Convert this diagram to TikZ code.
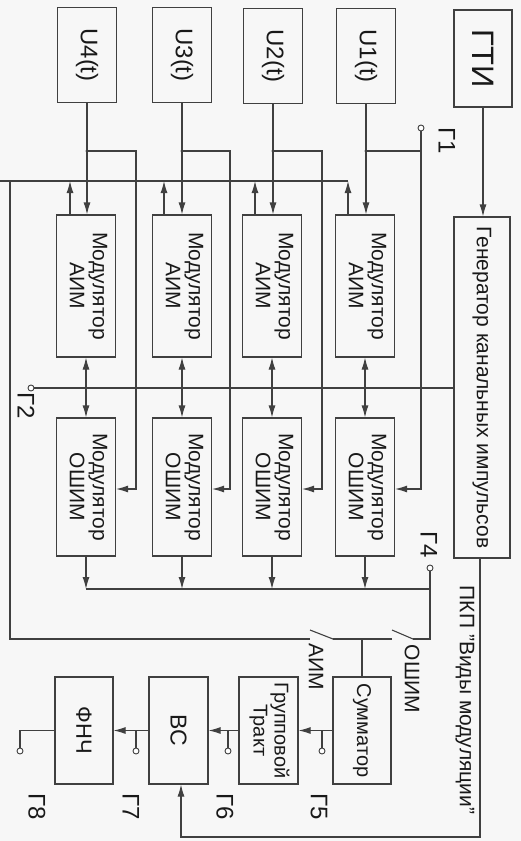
\documentclass[tikz,border=0pt]{standalone}
\usepackage{fontspec}
\setmainfont{Liberation Sans}
\usetikzlibrary{arrows.meta}
\begin{document}
\begin{tikzpicture}[x=1pt,y=-1pt,
  ln/.style={line width=1.1pt, draw=black!75},
  arr/.style={ln, -{Latex[length=12pt,width=7pt]}},
  blk/.style={draw=black!75, line width=1.1pt, inner sep=0pt, text=black!90},
  term/.style={circle, draw=black!75, line width=0.9pt, fill=white, inner sep=0pt, minimum size=6pt},
  jdot/.style={circle, fill=black!75, inner sep=0pt, minimum size=3.2pt},
  lbl/.style={text=black!90, inner sep=0pt, rotate=-90, font=\fontsize{24}{26}\selectfont},
  sw/.style={text=black!90, inner sep=0pt, rotate=-90, font=\fontsize{21}{23}\selectfont},
  mtext/.style={font=\fontsize{21}{23}\selectfont}
]
\useasboundingbox[fill=black!3] (0,0) rectangle (521,841);

% top row
\node[blk, minimum width=58pt, minimum height=97pt, font=\fontsize{31}{33}\selectfont] (GTI) at (483,58.5) {\rotatebox{-90}{ГТИ}};
\node[blk, minimum width=59pt, minimum height=95pt, font=\fontsize{24}{26}\selectfont] (U1) at (366,56) {\rotatebox{-90}{U1(t)}};
\node[blk, minimum width=59pt, minimum height=95pt, font=\fontsize{24}{26}\selectfont] (U2) at (273,56) {\rotatebox{-90}{U2(t)}};
\node[blk, minimum width=59pt, minimum height=95pt, font=\fontsize{24}{26}\selectfont] (U3) at (182,55) {\rotatebox{-90}{U3(t)}};
\node[blk, minimum width=59pt, minimum height=95pt, font=\fontsize{24}{26}\selectfont] (U4) at (87,55) {\rotatebox{-90}{U4(t)}};

% generator
\node[blk, minimum width=56pt, minimum height=341pt, mtext] (Gen) at (482,387.5) {\rotatebox{-90}{Генератор канальных импульсов}};

% AIM modulators
\node[blk, minimum width=59pt, minimum height=142pt, mtext] (A1) at (365,286) {\rotatebox{-90}{\begin{tabular}{@{}c@{}}Модулятор\\АИМ\end{tabular}}};
\node[blk, minimum width=59pt, minimum height=142pt, mtext] (A2) at (272,286) {\rotatebox{-90}{\begin{tabular}{@{}c@{}}Модулятор\\АИМ\end{tabular}}};
\node[blk, minimum width=59pt, minimum height=142pt, mtext] (A3) at (182,286) {\rotatebox{-90}{\begin{tabular}{@{}c@{}}Модулятор\\АИМ\end{tabular}}};
\node[blk, minimum width=59pt, minimum height=142pt, mtext] (A4) at (86,286) {\rotatebox{-90}{\begin{tabular}{@{}c@{}}Модулятор\\АИМ\end{tabular}}};

% OShIM modulators
\node[blk, minimum width=59pt, minimum height=138pt, mtext] (O1) at (365,487) {\rotatebox{-90}{\begin{tabular}{@{}c@{}}Модулятор\\ОШИМ\end{tabular}}};
\node[blk, minimum width=59pt, minimum height=138pt, mtext] (O2) at (272,487) {\rotatebox{-90}{\begin{tabular}{@{}c@{}}Модулятор\\ОШИМ\end{tabular}}};
\node[blk, minimum width=59pt, minimum height=138pt, mtext] (O3) at (182,487) {\rotatebox{-90}{\begin{tabular}{@{}c@{}}Модулятор\\ОШИМ\end{tabular}}};
\node[blk, minimum width=59pt, minimum height=138pt, mtext] (O4) at (86,487) {\rotatebox{-90}{\begin{tabular}{@{}c@{}}Модулятор\\ОШИМ\end{tabular}}};

% bottom row
\node[blk, minimum width=58pt, minimum height=107pt, font=\fontsize{20}{22}\selectfont] (Sum) at (362,730.5) {\rotatebox{-90}{Сумматор}};
\node[blk, minimum width=59pt, minimum height=107pt, font=\fontsize{20}{21}\selectfont] (Grp) at (268.5,730.5) {\rotatebox{-90}{\begin{tabular}{@{}c@{}}Групповой\\Тракт\end{tabular}}};
\node[blk, minimum width=59pt, minimum height=107pt, font=\fontsize{23}{25}\selectfont] (VS) at (178.5,730.5) {\rotatebox{-90}{ВС}};
\node[blk, minimum width=58pt, minimum height=107pt, font=\fontsize{22}{24}\selectfont] (FNC) at (84,730.5) {\rotatebox{-90}{ФНЧ}};

% GTI -> generator
\draw[arr] (GTI) -- (GTI.south |- Gen.north);

% U -> AIM, with branches to OShIM
\coordinate (j1) at (366,151); \coordinate (j2) at (273,151);
\coordinate (j3) at (182,151); \coordinate (j4) at (87,151);
\draw[arr] (U1.south) -- (U1.south |- A1.north);
\draw[arr] (U2.south) -- (U2.south |- A2.north);
\draw[arr] (U3.south) -- (U3.south |- A3.north);
\draw[arr] (U4.south) -- (U4.south |- A4.north);
\node[jdot] at (j1) {}; \node[jdot] at (j2) {}; \node[jdot] at (j3) {}; \node[jdot] at (j4) {};

\node[term] (G1t) at (421,128) {};
\coordinate (b1) at (421,489);
\draw[ln] (j1) -- (j1 -| G1t);
\draw[arr] (G1t.south) -- (b1) -- (b1 -| O1.east);
\coordinate (c2) at (322,151); \coordinate (b2) at (322,489);
\draw[arr] (j2) -- (c2) -- (b2) -- (b2 -| O2.east);
\coordinate (c3) at (230,151); \coordinate (b3) at (230,489);
\draw[arr] (j3) -- (c3) -- (b3) -- (b3 -| O3.east);
\coordinate (c4) at (136,151); \coordinate (b4) at (136,489);
\draw[arr] (j4) -- (c4) -- (b4) -- (b4 -| O4.east);

% AIM outputs -> common bus
\coordinate (u1) at (348,181); \coordinate (u2) at (255,181);
\coordinate (u3) at (164,181); \coordinate (u4) at (70,181);
\draw[arr] (A1.north -| u1) -- (u1);
\draw[arr] (A2.north -| u2) -- (u2);
\draw[arr] (A3.north -| u3) -- (u3);
\draw[arr] (A4.north -| u4) -- (u4);
\coordinate (L0) at (0,181); \coordinate (L1) at (10,181); \coordinate (L2) at (10,639);
\coordinate (sa) at (310,639);
\draw[ln] (L0) -- (u1);
\draw[ln] (L1) -- (L2) -- (sa);

% channel pulses from generator
\node[term] (G2t) at (31,388) {};
\draw[ln] (G2t.east) -- (G2t.east -| Gen.west);
\foreach \k in {1,2,3,4}{
  \coordinate (m\k) at (A\k.south |- G2t);
  \draw[arr] (m\k) -- (A\k.south);
  \draw[arr] (m\k) -- (O\k.north);
  \node[jdot] at (m\k) {};
}

% OShIM outputs -> bus
\coordinate (ob) at (430,589);
\foreach \k in {1,2,3,4}{ \draw[arr] (O\k.south) -- (O\k.south |- ob); }
\draw[ln] (O4.south |- ob) -- (ob);
\node[term] (G4t) at (430,568) {};

% switches
\coordinate (sb) at (333,639); \coordinate (sbt) at (310,630);
\coordinate (sc) at (392,639);
\coordinate (sd) at (413,639); \coordinate (sdt) at (392,630);
\coordinate (se) at (430,639);
\coordinate (st) at (362,639);
\draw[ln] (sb) -- (sbt);
\draw[ln] (sb) -- (sc);
\draw[ln] (sd) -- (sdt);
\draw[ln] (G4t.south) -- (se) -- (sd);
\draw[ln] (st) -- (Sum.north);

% bottom chain
\draw[arr] (Sum.west) -- (Grp.east);
\draw[arr] (Grp.west) -- (VS.east);
\draw[arr] (VS.west) -- (FNC.east);
\coordinate (t5) at (322,730.5); \node[term] (G5t) at (322,751) {}; \draw[ln] (t5) -- (G5t.north);
\coordinate (t6) at (228,730.5); \node[term] (G6t) at (228,751) {}; \draw[ln] (t6) -- (G6t.north);
\coordinate (t7) at (136,730.5); \node[term] (G7t) at (136,751) {}; \draw[ln] (t7) -- (G7t.north);
\coordinate (fo) at (20,730.5); \node[term] (G8t) at (20,751) {};
\draw[ln] (FNC.west) -- (fo) -- (G8t.north);

% PKP control line
\coordinate (p1) at (480,837); \coordinate (p2) at (181,837);
\draw[arr] (Gen.south -| p1) -- (p1) -- (p2) -- (VS.south -| p2);

% labels
\node[lbl] (lG1) at (447,141) {Г1};
\node[lbl] (lG2) at (26,406) {Г2};
\node[lbl] (lG4) at (429,545) {Г4};
\node[lbl] (lG5) at (319,807) {Г5};
\node[lbl] (lG6) at (225,807) {Г6};
\node[lbl] (lG7) at (131,807) {Г7};
\node[lbl] (lG8) at (37,807) {Г8};
\node[sw] (lAIM) at (316,667) {АИМ};
\node[sw] (lOSH) at (412,679) {ОШИМ};
\node[sw] (lPKP) at (465,700) {ПКП "Виды модуляции"};
\end{tikzpicture}
\end{document}
